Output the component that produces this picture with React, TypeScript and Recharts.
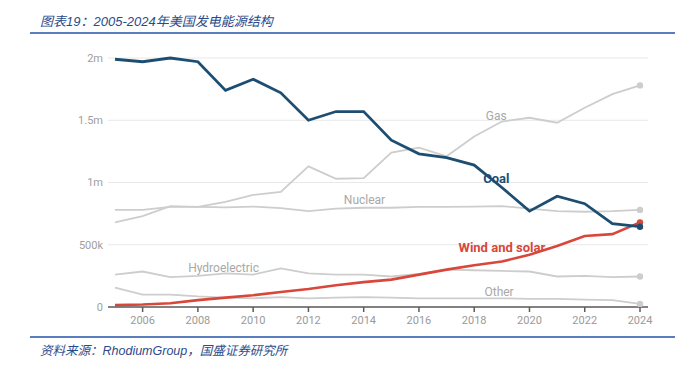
import { LineChart, Line, XAxis, YAxis, CartesianGrid, ReferenceDot, Label } from "recharts";

// US electricity generation by source, thousands (k) of GWh-ish units as shown on the axis
const years = [
  2005, 2006, 2007, 2008, 2009, 2010, 2011, 2012, 2013, 2014,
  2015, 2016, 2017, 2018, 2019, 2020, 2021, 2022, 2023, 2024,
];
const coal = [1990, 1970, 2000, 1970, 1740, 1830, 1720, 1500, 1570, 1570, 1340, 1230, 1200, 1140, 960, 770, 890, 830, 670, 645];
const gas = [680, 730, 810, 805, 845, 900, 925, 1130, 1030, 1035, 1240, 1280, 1210, 1370, 1490, 1520, 1480, 1600, 1710, 1780];
const nuclear = [780, 780, 805, 805, 800, 807, 795, 770, 790, 797, 797, 805, 805, 807, 810, 790, 770, 765, 770, 780];
const hydro = [260, 285, 240, 250, 270, 260, 310, 270, 260, 260, 245, 265, 300, 295, 290, 285, 245, 250, 240, 245];
const other = [155, 100, 100, 85, 75, 70, 80, 70, 75, 80, 75, 70, 70, 70, 70, 65, 65, 60, 55, 25];
const windSolar = [15, 20, 30, 55, 75, 95, 120, 145, 175, 200, 220, 260, 300, 335, 365, 420, 490, 570, 585, 680];

const xTicks = [2006, 2008, 2010, 2012, 2014, 2016, 2018, 2020, 2022, 2024];
const yTicks = [0, 500, 1000, 1500, 2000];

const data = years.map((year, i) => ({
  year,
  coal: coal[i],
  gas: gas[i],
  nuclear: nuclear[i],
  hydro: hydro[i],
  other: other[i],
  windSolar: windSolar[i],
}));

const GREY = "#cdcdcd";
const GREY_TEXT = "#a8a8a8";
const COAL = "#1d4e72";
const WIND = "#d8473a";
const FONT = "Roboto, 'Noto Sans', sans-serif";

const fmtY = (v: number) => (v === 0 ? "0" : v < 1000 ? `${v}k` : `${v / 1000}m`);

// only the last point gets a dot
const endDot = (color: string) => (props: any) => {
  const { cx, cy, index } = props;
  if (index !== years.length - 1) return <g key={`d-${index}`} />;
  return <circle key={`d-${index}`} cx={cx} cy={cy} r={3.2} fill={color} />;
};

const tag = (x: number, y: number, text: string, color: string, bold = false) => (
  <ReferenceDot x={x} y={y} r={0} fill="none" stroke="none" ifOverflow="visible">
    <Label
      value={text}
      position="center"
      fill={color}
      fontSize={bold ? 13 : 12}
      fontWeight={bold ? 700 : 400}
      fontFamily={FONT}
    />
  </ReferenceDot>
);

export default function App() {
  return (
    <div
      style={{
        position: "absolute",
        left: 0,
        top: 0,
        width: 675,
        height: 368,
        background: "#fff",
        overflow: "hidden",
      }}
    >
      <div
        style={{
          position: "absolute",
          left: 40,
          top: 11,
          fontSize: 13,
          fontStyle: "italic",
          color: "#2b4a8b",
          fontFamily: "'Liberation Sans', 'Noto Sans CJK SC', sans-serif",
          whiteSpace: "nowrap",
        }}
      >
        图表19：2005-2024年美国发电能源结构
      </div>
      <div style={{ position: "absolute", left: 30, top: 32, width: 645, height: 1.5, background: "#5a7dbd" }} />

      <div style={{ position: "absolute", left: 0, top: 0 }}>
        <LineChart width={675} height={368} data={data} margin={{ top: 58, right: 27, left: 68, bottom: 31 }}>
          <CartesianGrid vertical={false} stroke="#e8e8e8" strokeWidth={1} />
          <XAxis
            dataKey="year"
            type="number"
            domain={[2005, 2024]}
            ticks={xTicks}
            padding={{ left: 7, right: 8 }}
            height={30}
            axisLine={{ stroke: "#5c5c5c", strokeWidth: 1.5 }}
            tickLine={{ stroke: "#5c5c5c", strokeWidth: 1.5 }}
            tickSize={5}
            tickMargin={4}
            tick={{ fontSize: 11, fill: "#9a9a9a", fontFamily: FONT }}
          />
          <YAxis
            domain={[0, 2000]}
            ticks={yTicks}
            tickFormatter={fmtY}
            width={40}
            axisLine={false}
            tickLine={false}
            tickSize={0}
            tickMargin={5}
            tick={{ fontSize: 11, fill: "#a0a0a0", fontFamily: FONT }}
          />

          <Line dataKey="other" stroke={GREY} strokeWidth={1.8} dot={endDot(GREY)} activeDot={false} isAnimationActive={false} />
          <Line dataKey="hydro" stroke={GREY} strokeWidth={1.8} dot={endDot(GREY)} activeDot={false} isAnimationActive={false} />
          <Line dataKey="nuclear" stroke={GREY} strokeWidth={1.8} dot={endDot(GREY)} activeDot={false} isAnimationActive={false} />
          <Line dataKey="gas" stroke={GREY} strokeWidth={1.8} dot={endDot(GREY)} activeDot={false} isAnimationActive={false} />
          <Line dataKey="windSolar" stroke={WIND} strokeWidth={2.6} dot={endDot(WIND)} activeDot={false} isAnimationActive={false} />
          <Line dataKey="coal" stroke={COAL} strokeWidth={2.8} dot={endDot(COAL)} activeDot={false} isAnimationActive={false} />

          {tag(2018.8, 1540, "Gas", GREY_TEXT)}
          {tag(2018.8, 1036, "Coal", COAL, true)}
          {tag(2014.03, 859, "Nuclear", GREY_TEXT)}
          {tag(2008.93, 313, "Hydroelectric", GREY_TEXT)}
          {tag(2019.0, 478, "Wind and solar", WIND, true)}
          {tag(2018.9, 120, "Other", GREY_TEXT)}
        </LineChart>
      </div>

      <div style={{ position: "absolute", left: 30, top: 336, width: 645, height: 1.5, background: "#5a7dbd" }} />
      <div
        style={{
          position: "absolute",
          left: 40,
          top: 340,
          fontSize: 12.5,
          fontStyle: "italic",
          color: "#2b4a8b",
          fontFamily: "'Liberation Sans', 'Noto Sans CJK SC', sans-serif",
          whiteSpace: "nowrap",
        }}
      >
        资料来源：RhodiumGroup，国盛证券研究所
      </div>
    </div>
  );
}
